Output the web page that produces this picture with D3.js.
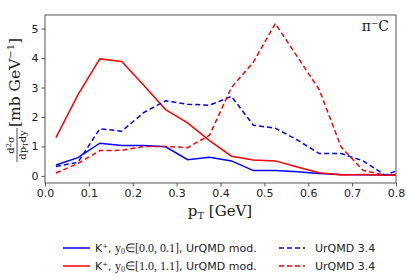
<!DOCTYPE html>
<html><head><meta charset="utf-8">
<script src="https://cdn.jsdelivr.net/npm/d3@7"></script>
<style>body{margin:0;background:#fff}svg{display:block}</style>
</head><body><svg id="c" width="407" height="279"></svg>
<script>
const pt = [0.025,0.075,0.125,0.175,0.225,0.275,0.325,0.375,0.425,0.475,0.525,0.575,0.625,0.675,0.725,0.775,0.825];
const blueSolid = [0.37,0.62,1.11,1.03,1.03,0.99,0.55,0.63,0.51,0.18,0.18,0.14,0.08,0.05,0.04,0.03,0.03];
const redSolid  = [1.30,2.75,3.97,3.88,3.08,2.25,1.80,1.20,0.67,0.54,0.51,0.30,0.11,0.03,0.05,0.02,0.02];
const blueDash  = [0.32,0.46,1.60,1.52,2.15,2.55,2.43,2.40,2.70,1.72,1.62,1.22,0.76,0.76,0.51,0.03,0.30];
const redDash   = [0.10,0.42,0.86,0.87,1.00,1.00,0.96,1.38,3.00,3.86,5.17,4.05,2.93,0.98,0.19,0.02,0.02];
const xTicks = [0.0,0.1,0.2,0.3,0.4,0.5,0.6,0.7,0.8];
const yTicks = [0,1,2,3,4,5];
const legendRanges = ["[0.0, 0.1]","[1.0, 1.1]"];
const legendModel = ["UrQMD mod.","UrQMD 3.4"];

const svg = d3.select("#c");
const L=45, R=396, T=15, B=183;
const x = d3.scaleLinear().domain([0,0.8]).range([L,R]);
const y = d3.scaleLinear().domain([-0.24,5.46]).range([B,T]);

svg.append("defs").append("clipPath").attr("id","cp").append("rect")
  .attr("x",L).attr("y",T).attr("width",R-L).attr("height",B-T);

const line = d3.line().x((d,i)=>x(pt[i])).y(d=>y(d));
const series = [
  {v:blueSolid,c:"#0000ff",dash:null},
  {v:redSolid,c:"#ff0000",dash:null},
  {v:blueDash,c:"#0000ff",dash:"5,3"},
  {v:redDash,c:"#ff0000",dash:"5,3"}
];
const g = svg.append("g").attr("clip-path","url(#cp)");
series.forEach(s=>{
  g.append("path").attr("d",line(s.v)).attr("fill","none")
   .attr("stroke",s.c).attr("stroke-width",1.5)
   .attr("stroke-dasharray",s.dash);
});

svg.append("rect").attr("x",L).attr("y",T).attr("width",R-L).attr("height",B-T)
  .attr("fill","none").attr("stroke","#555").attr("stroke-width",1);

const ax = svg.append("g").attr("transform",`translate(0,${B})`)
  .call(d3.axisBottom(x).tickValues(xTicks).tickFormat(d3.format(".1f")).tickSize(3.5).tickPadding(3));
const ay = svg.append("g").attr("transform",`translate(${L},0)`)
  .call(d3.axisLeft(y).tickValues(yTicks).tickFormat(d3.format("d")).tickSize(3.5).tickPadding(3));
[ax,ay].forEach(a=>{
  a.select(".domain").remove();
  a.selectAll(".tick line").attr("stroke","#555");
  a.selectAll(".tick text").attr("fill","#222").style("font-family","DejaVu Sans").style("font-size","11px");
});

const xl = svg.append("text").attr("x",220).attr("y",216).attr("text-anchor","middle")
  .style("font-family","DejaVu Serif").style("font-size","15px").attr("fill","#222");
xl.append("tspan").text("p");
xl.append("tspan").text("T").style("font-size","10px").attr("dy",3);
xl.append("tspan").text(" [GeV]").attr("dy",-3);

const yl = svg.append("g").attr("transform","rotate(-90)").attr("fill","#222")
  .style("font-family","DejaVu Serif");
const num = yl.append("text").attr("x",-145).attr("y",14).attr("text-anchor","middle").style("font-size","10px");
num.append("tspan").text("d");
num.append("tspan").text("2").style("font-size","7px").attr("dy",-3);
num.append("tspan").text("σ").attr("dy",3);
yl.append("line").attr("x1",-162).attr("x2",-128).attr("y1",17).attr("y2",17).attr("stroke","#222").attr("stroke-width",0.8);
const den = yl.append("text").attr("x",-145).attr("y",26).attr("text-anchor","middle").style("font-size","10px");
den.append("tspan").text("dp");
den.append("tspan").text("T").style("font-size","7px").attr("dy",2);
den.append("tspan").text("dy").attr("dy",-2);
const br = yl.append("text").attr("x",-127).attr("y",20).style("font-size","15.5px");
br.append("tspan").text("[mb GeV");
br.append("tspan").text("−1").style("font-size","10px").attr("dy",-6);
br.append("tspan").text("]").attr("dy",6);

svg.append("text").attr("x",389).attr("y",31).attr("text-anchor","end")
  .style("font-family","DejaVu Serif").style("font-size","14px").attr("fill","#222")
  .text("π⁻C");

const leg = [
  {x0:63,x1:90,tx:95,yy:248,s:series[0],r:legendRanges[0],m:legendModel[0]},
  {x0:63,x1:90,tx:95,yy:266,s:series[1],r:legendRanges[1],m:legendModel[0]},
  {x0:279,x1:305,tx:315,yy:248,s:series[2],r:null,m:legendModel[1]},
  {x0:279,x1:305,tx:315,yy:266,s:series[3],r:null,m:legendModel[1]}
];
leg.forEach(l=>{
  svg.append("line").attr("x1",l.x0).attr("x2",l.x1).attr("y1",l.yy).attr("y2",l.yy)
    .attr("stroke",l.s.c).attr("stroke-width",1.5).attr("stroke-dasharray",l.s.dash);
  const t = svg.append("text").attr("x",l.tx).attr("y",l.yy+4).attr("fill","#222")
    .style("font-family","DejaVu Sans").style("font-size","11px");
  if (l.r) {
    t.append("tspan").text("K⁺, ");
    const s = t.append("tspan").style("font-family","Liberation Serif").style("font-size","12px");
    s.append("tspan").text("y");
    s.append("tspan").text("0").style("font-size","8px").attr("dy",2);
    s.append("tspan").text("∈" + l.r).attr("dy",-2);
    t.append("tspan").text(", " + l.m);
  } else {
    t.text(l.m);
  }
});
</script></body></html>
